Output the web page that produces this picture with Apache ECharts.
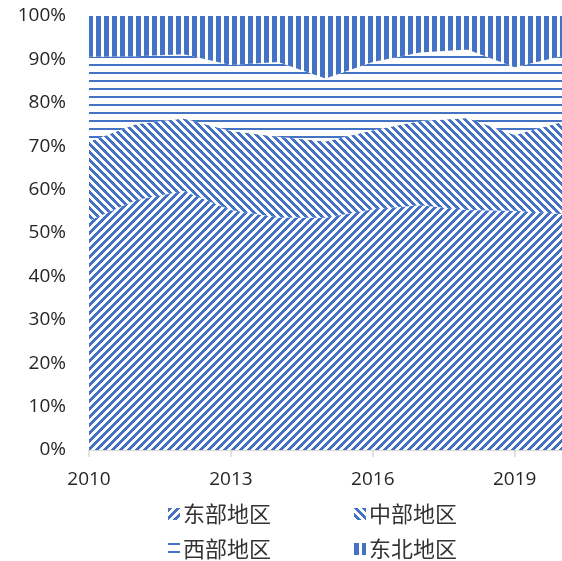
<!DOCTYPE html>
<html>
<head>
<meta charset="utf-8">
<script src="https://cdn.jsdelivr.net/npm/echarts@6/dist/echarts.min.js"></script>
<style>
  html, body { margin: 0; padding: 0; background: #fff; }
  #chart { width: 562px; height: 561px; }
</style>
</head>
<body>
<div id="chart"></div>
<script>
// 年份
const years = ['2010', '2011', '2012', '2013', '2014', '2015', '2016', '2017', '2018', '2019', '2020'];
// 各地区占比（%）
const east = [52.8, 57.6, 59.7, 55.3, 53.6, 53.5, 55.5, 56.4, 55.3, 55.1, 54.4];
const central = [18.2, 17.5, 16.7, 18.2, 18.6, 17.6, 18.2, 19.4, 21.2, 17.5, 21.2];
const west = [19.6, 15.6, 14.8, 15.2, 17.2, 14.5, 15.7, 15.8, 15.8, 15.6, 15.2];
const northeast = [9.4, 9.3, 8.8, 11.3, 10.6, 14.4, 10.6, 8.4, 7.7, 11.8, 9.2];
const names = ['东部地区', '中部地区', '西部地区', '东北地区'];

const blue = '#4472C4';

// 生成 8x8 的填充图案
function makePattern(test) {
  const c = document.createElement('canvas');
  c.width = 8;
  c.height = 8;
  const ctx = c.getContext('2d');
  ctx.fillStyle = '#fff';
  ctx.fillRect(0, 0, 8, 8);
  ctx.fillStyle = blue;
  for (let x = 0; x < 8; x++) {
    for (let y = 0; y < 8; y++) {
      if (test(x, y)) ctx.fillRect(x, y, 1, 1);
    }
  }
  return { image: c, repeat: 'repeat' };
}

const patterns = [
  makePattern((x, y) => (x + y) % 8 < 4),          // 宽上对角线
  makePattern((x, y) => ((x - y) % 8 + 8) % 8 < 4), // 宽下对角线
  makePattern((x, y) => y % 8 < 2),                 // 横线
  makePattern((x, y) => x % 8 < 5)                  // 竖线
];
const values = [east, central, west, northeast];

const series = names.map((name, i) => ({
  name: name,
  type: 'line',
  stack: 'total',
  data: values[i],
  showSymbol: false,
  symbol: 'none',
  lineStyle: { width: 0 },
  itemStyle: { color: patterns[i] },
  areaStyle: { color: patterns[i], opacity: 1 }
}));

// 图例位置
const legendPos = [
  { left: 163, top: 498 },
  { left: 349, top: 498 },
  { left: 163, top: 533 },
  { left: 349, top: 533 }
];
const legends = names.map((name, i) => ({
  data: [name],
  left: legendPos[i].left,
  top: legendPos[i].top,
  icon: 'rect',
  itemWidth: 12,
  itemHeight: 12,
  itemGap: 0,
  textStyle: { fontFamily: 'Noto Sans CJK SC', fontSize: 22, color: '#333', padding: [0, 0, 0, -2] }
}));

const option = {
  animation: false,
  backgroundColor: '#fff',
  legend: legends,
  grid: { left: 89, top: 16, width: 476, height: 434, containLabel: false },
  xAxis: {
    type: 'category',
    boundaryGap: false,
    data: years,
    axisLine: { lineStyle: { color: '#d9d9d9', width: 1.5 } },
    axisTick: { interval: 2, length: 7, lineStyle: { color: '#d9d9d9', width: 1.5 } },
    axisLabel: { interval: 2, margin: 20, fontFamily: 'Open Sans', fontSize: 19, color: '#262626' }
  },
  yAxis: {
    type: 'value',
    min: 0,
    max: 100,
    interval: 10,
    axisLine: { show: false },
    axisTick: { show: false },
    splitLine: { lineStyle: { color: '#d9d9d9' } },
    axisLabel: { formatter: '{value}%', margin: 23, fontFamily: 'Open Sans', fontSize: 19, color: '#262626' }
  },
  series: series
};

const chart = echarts.init(document.getElementById('chart'));
chart.setOption(option);
</script>
</body>
</html>
